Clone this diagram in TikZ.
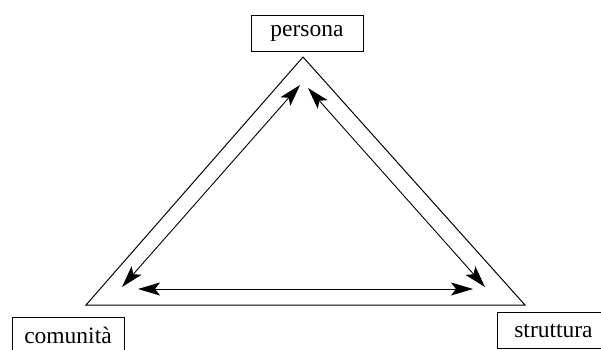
\documentclass[tikz,border=0pt]{standalone}
\usepackage{fontspec}
\setmainfont{Liberation Serif}
\usetikzlibrary{arrows.meta}
\begin{document}
\begin{tikzpicture}[x=1pt,y=-1pt,
  lbl/.style={draw,line width=1pt,minimum width=112pt,minimum height=36pt,inner sep=0pt,font=\fontsize{23.5}{26}\selectfont},
  side/.style={line width=1pt},
  dbl/.style={line width=0.9pt,{Stealth[length=22pt,width=13pt,inset=5pt]}-{Stealth[length=22pt,width=13pt,inset=5pt]}}]
\useasboundingbox (0,0) rectangle (601,349);
\clip (0,0) rectangle (601,349);
\node[lbl] (persona) at (307,33) {persona};
\node[lbl] (comunita) at (68,335) {comunità};
\node[lbl,anchor=north west] (struttura) at (497,312) {struttura};
\coordinate (A) at (303,57);
\coordinate (B) at (86,305);
\coordinate (C) at (525,305);
\draw[side,line join=miter] (A) -- (B) -- (C) -- cycle;
\coordinate (l1) at (300,85);
\coordinate (l2) at (122,287);
\coordinate (r1) at (308,88);
\coordinate (r2) at (485,287);
\coordinate (h1) at (138,289);
\coordinate (h2) at (473,289);
\draw[dbl] (l1) -- (l2);
\draw[dbl] (r1) -- (r2);
\draw[dbl] (h1) -- (h2);
\end{tikzpicture}
\end{document}
